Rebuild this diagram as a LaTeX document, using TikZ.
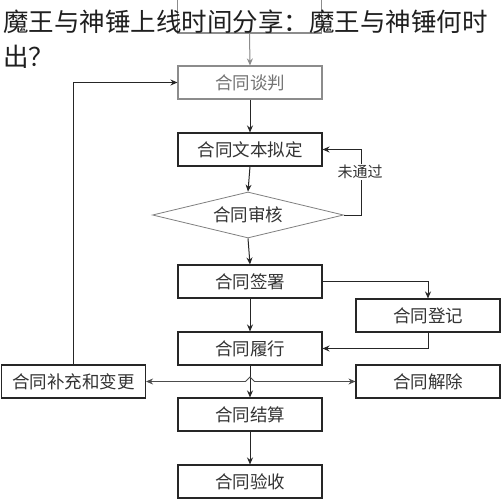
\documentclass[tikz,border=0pt]{standalone}
\usepackage{fontspec}
\setmainfont{Noto Sans CJK SC}
\usetikzlibrary{shapes.geometric,arrows.meta}
\begin{document}
\begin{tikzpicture}[x=1pt,y=-1pt,
  box/.style={draw=black!85,line width=1.1pt,minimum width=144pt,minimum height=33pt,inner sep=0pt,font=\fontsize{17.5}{20}\selectfont,text=black!80},
  graybox/.style={box,draw=black!45,text=black!55},
  dia/.style={draw=black!50,line width=0.8pt,diamond,minimum width=191pt,minimum height=46pt,inner sep=0pt,aspect=4.15,font=\fontsize{17.5}{20}\selectfont,text=black!80},
  conn/.style={line width=1pt,draw=black!85,-{Stealth[length=7pt,width=6pt]}},
  thinconn/.style={line width=0.8pt,draw=black!70},
  lbl/.style={fill=white,inner sep=1pt,font=\fontsize{15}{17}\selectfont,text=black!80},
  ttl/.style={anchor=west,inner sep=0pt,font=\fontsize{25.5}{28}\selectfont,text=black!88}
]
\useasboundingbox (0,0) rectangle (501,500);
\fill[white] (0,0) rectangle (501,500);
% nodes
\node[graybox,minimum height=37pt] (prev) at (249.5,14.5) {};
\node[graybox] (tanpan) at (250,82.5) {合同谈判};
\node[box] (niding) at (250,149.5) {合同文本拟定};
\node[dia] (shenhe) at (248,215) {合同审核};
\node[box] (qianshu) at (250,281.5) {合同签署};
\node[box] (dengji) at (428,315.5) {合同登记};
\node[box] (lvxing) at (250,348.5) {合同履行};
\node[box] (buchong) at (73.5,381.5) {合同补充和变更};
\node[box] (jiechu) at (428,381.5) {合同解除};
\node[box] (jiesuan) at (250,414.5) {合同结算};
\node[box] (yanshou) at (250,481.5) {合同验收};
% title
\node[ttl] (t1) at (3,22) {魔王与神锤上线时间分享：魔王与神锤何时};
\node[ttl] (t2) at (3,57) {出？};
% connectors
\draw[conn,draw=black!45,fill=black!45] (prev.south) -- (tanpan.north);
\draw[conn] (tanpan.south) -- (niding.north);
\draw[conn] (niding.south) -- (shenhe.north);
\draw[conn] (shenhe.south) -- (qianshu.north);
\draw[conn] (shenhe.east) -- ++(18,0) coordinate (lp) |- (niding.east);
\node[lbl] (weitongguo) at (360,172) {未通过};
\draw[conn] (qianshu.south) -- (lvxing.north);
\draw[conn] (qianshu.east) -| (dengji.north);
\draw[conn] (dengji.south) |- (lvxing.east);
\draw[conn] (lvxing.south) -- (jiesuan.north);
\draw[thinconn,{Stealth[length=7pt,width=6pt]}-{Stealth[length=7pt,width=6pt]}] (buchong.east) -- (245.5,381.5) -- (250,377) -- (254.5,381.5) -- (jiechu.west);
\draw[conn] (buchong.north) |- (tanpan.west);
\draw[conn] (jiesuan.south) -- (yanshou.north);
\end{tikzpicture}
\end{document}
